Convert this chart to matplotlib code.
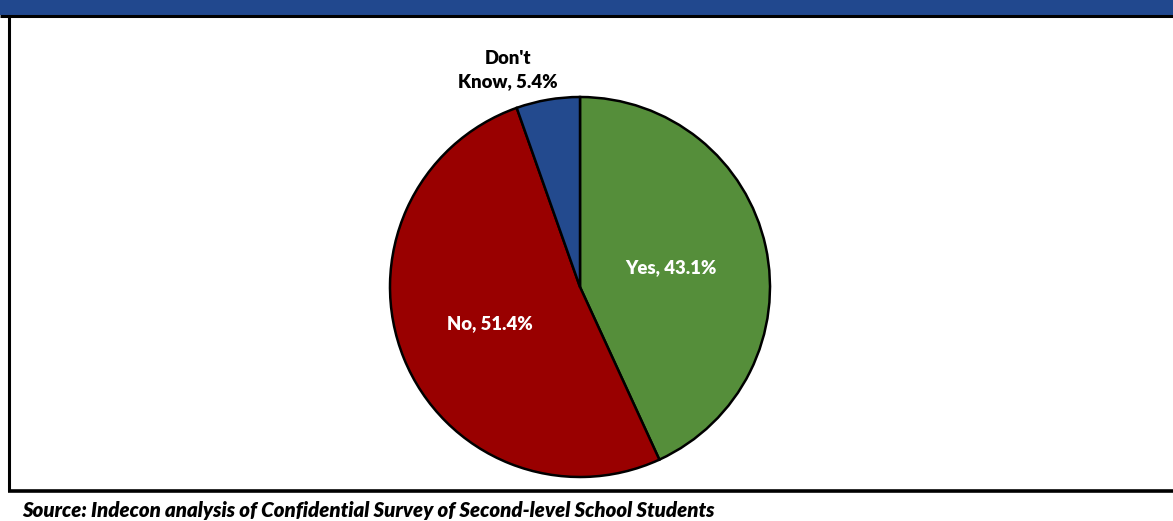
import matplotlib
matplotlib.use("Agg")
import matplotlib.pyplot as plt
from matplotlib.patches import Rectangle
from matplotlib.lines import Line2D
import numpy as np

categories = ["Yes", "No", "Don't\nKnow"]
values = [43.1, 51.4, 5.4]
colors = ["#558E3A", "#990000", "#234A8E"]
source = "Source: Indecon analysis of Confidential Survey of Second-level School Students"

W, H = 1173, 521
fig = plt.figure(figsize=(W / 100, H / 100), dpi=100)

def fx(px):
    return px / W

def fy(py):
    return 1 - py / H

# header band
fig.patches.append(Rectangle((0, fy(15)), 1, 15 / H, transform=fig.transFigure,
                             facecolor="#21488E", edgecolor="none", zorder=0))
fig.lines.append(Line2D([0, 1], [fy(15.5), fy(15.5)], transform=fig.transFigure,
                        color="black", lw=2.2, solid_capstyle="butt"))
fig.lines.append(Line2D([fx(9), fx(9)], [fy(16.5), fy(491)], transform=fig.transFigure,
                        color="black", lw=2.2, solid_capstyle="butt"))
fig.lines.append(Line2D([fx(8), 1], [fy(491), fy(491)], transform=fig.transFigure,
                        color="black", lw=2.6, solid_capstyle="butt"))

# pie axes
cx, cy, r = 580, 287, 190
ax = fig.add_axes([fx(cx - r), fy(cy + r), 2 * r / W, 2 * r / H])
wedges, _ = ax.pie(values, colors=colors, startangle=90, counterclock=False,
                   radius=1, wedgeprops=dict(edgecolor="black", linewidth=1.8))
ax.set_xlim(-1, 1)
ax.set_ylim(-1, 1)
ax.set_aspect("auto")
ax.axis("off")

font = "Lato"
dists = [0.49, 0.51, None]
for w, cat, val, d in zip(wedges, categories, values, dists):
    txt = f"{cat}, {val:.1f}%"
    if d is not None:
        ang = np.deg2rad((w.theta1 + w.theta2) / 2)
        ax.text(d * np.cos(ang), d * np.sin(ang), txt, ha="center", va="center",
                color="white", fontsize=13.3, fontweight="heavy", family=font)
    else:
        ax.text(-0.38, 1.14, txt, ha="center", va="center", color="black",
                fontsize=13.3, fontweight="heavy", family=font, linespacing=1.45,
                clip_on=False)

fig.text(fx(22), fy(510), source, ha="left", va="center", fontsize=14.7,
         fontweight="heavy", fontstyle="italic", family=font)

fig.savefig("out.png", dpi=100)
